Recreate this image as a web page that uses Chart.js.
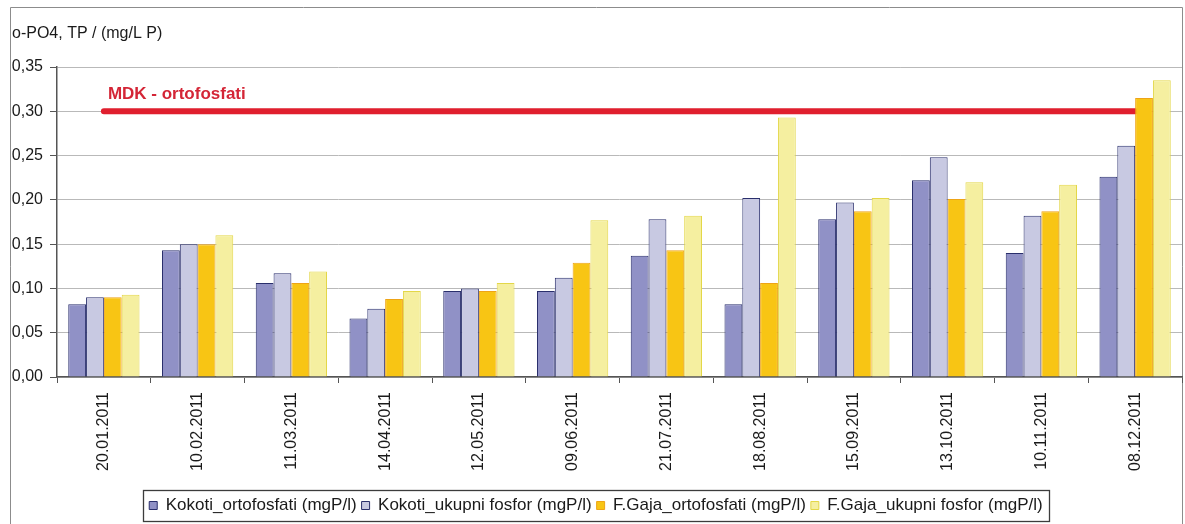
<!DOCTYPE html>
<html>
<head>
<meta charset="utf-8">
<title>o-PO4 i TP - Kokoti i F.Gaja 2011</title>
<script src="https://cdn.jsdelivr.net/npm/chart.js@4.4.1/dist/chart.umd.min.js"></script>
<style>
  html, body { margin: 0; padding: 0; background: #fff; }
  #wrap { position: relative; width: 1185px; height: 524px; }
  canvas { display: block; }
</style>
</head>
<body>
<div id="wrap"><canvas id="c" width="1185" height="524"></canvas></div>
<script>
// Sampling dates
const categories = ['20.01.2011', '10.02.2011', '11.03.2011', '14.04.2011', '12.05.2011', '09.06.2011',
                    '21.07.2011', '18.08.2011', '15.09.2011', '13.10.2011', '10.11.2011', '08.12.2011'];

// Measured concentrations (mg P/l)
const kokotiOrto    = [0.082, 0.143, 0.106, 0.066, 0.097, 0.097, 0.137, 0.082, 0.178, 0.222, 0.140, 0.226];
const kokotiUkupni  = [0.090, 0.150, 0.117, 0.077, 0.100, 0.112, 0.178, 0.202, 0.197, 0.248, 0.182, 0.261];
const gajaOrto      = [0.090, 0.150, 0.106, 0.088, 0.097, 0.129, 0.143, 0.106, 0.187, 0.201, 0.187, 0.315];
const gajaUkupni    = [0.093, 0.160, 0.119, 0.097, 0.106, 0.177, 0.182, 0.293, 0.202, 0.220, 0.217, 0.335];

// Series names
const seriesNames = ['Kokoti_ortofosfati (mgP/l)', 'Kokoti_ukupni fosfor (mgP/l)',
                     'F.Gaja_ortofosfati (mgP/l)', 'F.Gaja_ukupni fosfor (mgP/l)'];

// Maximum allowed concentration for orthophosphates
const mdkLimit = 0.30;
const mdkLabel = 'MDK - ortofosfati';
const mdkSeries = categories.map(() => mdkLimit);

// Y axis
const yMin = 0, yMax = 0.35, yStep = 0.05;
const yTitle = 'o-PO4, TP / (mg/L P)';

const FONT = "'Liberation Sans', Arial, sans-serif";

const framePlugin = {
  id: 'frame',
  beforeDraw(chart) {
    const ctx = chart.ctx;
    ctx.save();
    ctx.fillStyle = '#ffffff';
    ctx.fillRect(0, 0, chart.width, chart.height);
    ctx.strokeStyle = '#8c8c8c';
    ctx.lineWidth = 1;
    ctx.beginPath();
    ctx.moveTo(10.5, chart.height + 2);
    ctx.lineTo(10.5, 7.5);
    ctx.lineTo(1182.5, 7.5);
    ctx.lineTo(1182.5, chart.height + 2);
    ctx.stroke();
    ctx.restore();
  },
  afterDraw(chart) {
    const ctx = chart.ctx;
    const y = chart.scales.y;
    const x = chart.scales.x;
    ctx.save();
    // axis title above the value axis
    ctx.fillStyle = '#1a1a1a';
    ctx.font = '16px ' + FONT;
    ctx.textBaseline = 'alphabetic';
    ctx.textAlign = 'left';
    ctx.fillText(yTitle, 12, 38);
    // limit label
    ctx.fillStyle = '#d42536';
    ctx.font = 'bold 17px ' + FONT;
    ctx.fillText(mdkLabel, x.getPixelForValue(0) + 4, y.getPixelForValue(mdkLimit) - 12);
    // legend frame
    const lg = chart.legend;
    if (lg && lg.legendHitBoxes.length) {
      const boxes = lg.legendHitBoxes;
      const l = Math.min(...boxes.map(b => b.left)) - 6;
      const r = Math.max(...boxes.map(b => b.left + b.width)) + 6;
      const t = Math.min(...boxes.map(b => b.top)) - 7;
      const bt = Math.max(...boxes.map(b => b.top + b.height)) + 7;
      ctx.strokeStyle = '#3c3c3c';
      ctx.lineWidth = 1.3;
      ctx.strokeRect(Math.round(l) + 0.5, Math.round(t) + 0.5, Math.round(r - l), Math.round(bt - t));
    }
    ctx.restore();
  }
};

const barStyle = (fill, border) => ({
  backgroundColor: fill,
  borderColor: border,
  borderWidth: 1,
  barPercentage: 1.0,
  categoryPercentage: 0.76,
  order: 0
});

new Chart(document.getElementById('c'), {
  type: 'bar',
  data: {
    labels: categories,
    datasets: [
      Object.assign({ label: seriesNames[0], data: kokotiOrto }, barStyle('#9091c6', '#2a2f6c')),
      Object.assign({ label: seriesNames[1], data: kokotiUkupni }, barStyle('#c8c9e2', '#2a2f6c')),
      Object.assign({ label: seriesNames[2], data: gajaOrto }, barStyle('#f8c514', '#eea416')),
      Object.assign({ label: seriesNames[3], data: gajaUkupni }, barStyle('#f5efa0', '#e3d748')),
      {
        type: 'line',
        label: mdkLabel,
        data: mdkSeries,
        borderColor: '#e01f2e',
        borderWidth: 6,
        borderCapStyle: 'round',
        pointRadius: 0,
        fill: false,
        order: 1
      }
    ]
  },
  options: {
    responsive: false,
    animation: false,
    devicePixelRatio: 1,
    layout: { padding: { left: 10, right: 3, top: 67, bottom: 0 } },
    plugins: {
      tooltip: { enabled: false },
      title: { display: false },
      legend: {
        display: true,
        position: 'bottom',
        labels: {
          font: { family: FONT, size: 17 },
          color: '#1a1a1a',
          boxWidth: 8,
          boxHeight: 8,
          padding: 5,
          filter: item => item.datasetIndex < 4
        }
      }
    },
    scales: {
      x: {
        offset: true,
        grid: {
          display: true,
          drawOnChartArea: false,
          drawTicks: true,
          tickLength: 6,
          tickColor: '#555555',
          offset: true
        },
        border: { display: true, color: '#555555', width: 1.5 },
        ticks: {
          font: { family: FONT, size: 16 },
          color: '#1a1a1a',
          minRotation: 90,
          maxRotation: 90,
          autoSkip: false,
          padding: 9
        },
        afterFit(scale) { scale.height = 115; }
      },
      y: {
        min: yMin,
        max: yMax,
        grid: {
          color: '#b9b9b9',
          lineWidth: 1,
          drawTicks: true,
          tickLength: 7,
          tickColor: '#555555'
        },
        border: { display: true, color: '#555555', width: 1.5 },
        ticks: {
          stepSize: yStep,
          font: { family: FONT, size: 16 },
          color: '#1a1a1a',
          padding: 7,
          callback: v => Number(v).toFixed(2).replace('.', ',')
        },
        afterFit(scale) { scale.width = 47; }
      }
    }
  },
  plugins: [framePlugin]
});
</script>
</body>
</html>
